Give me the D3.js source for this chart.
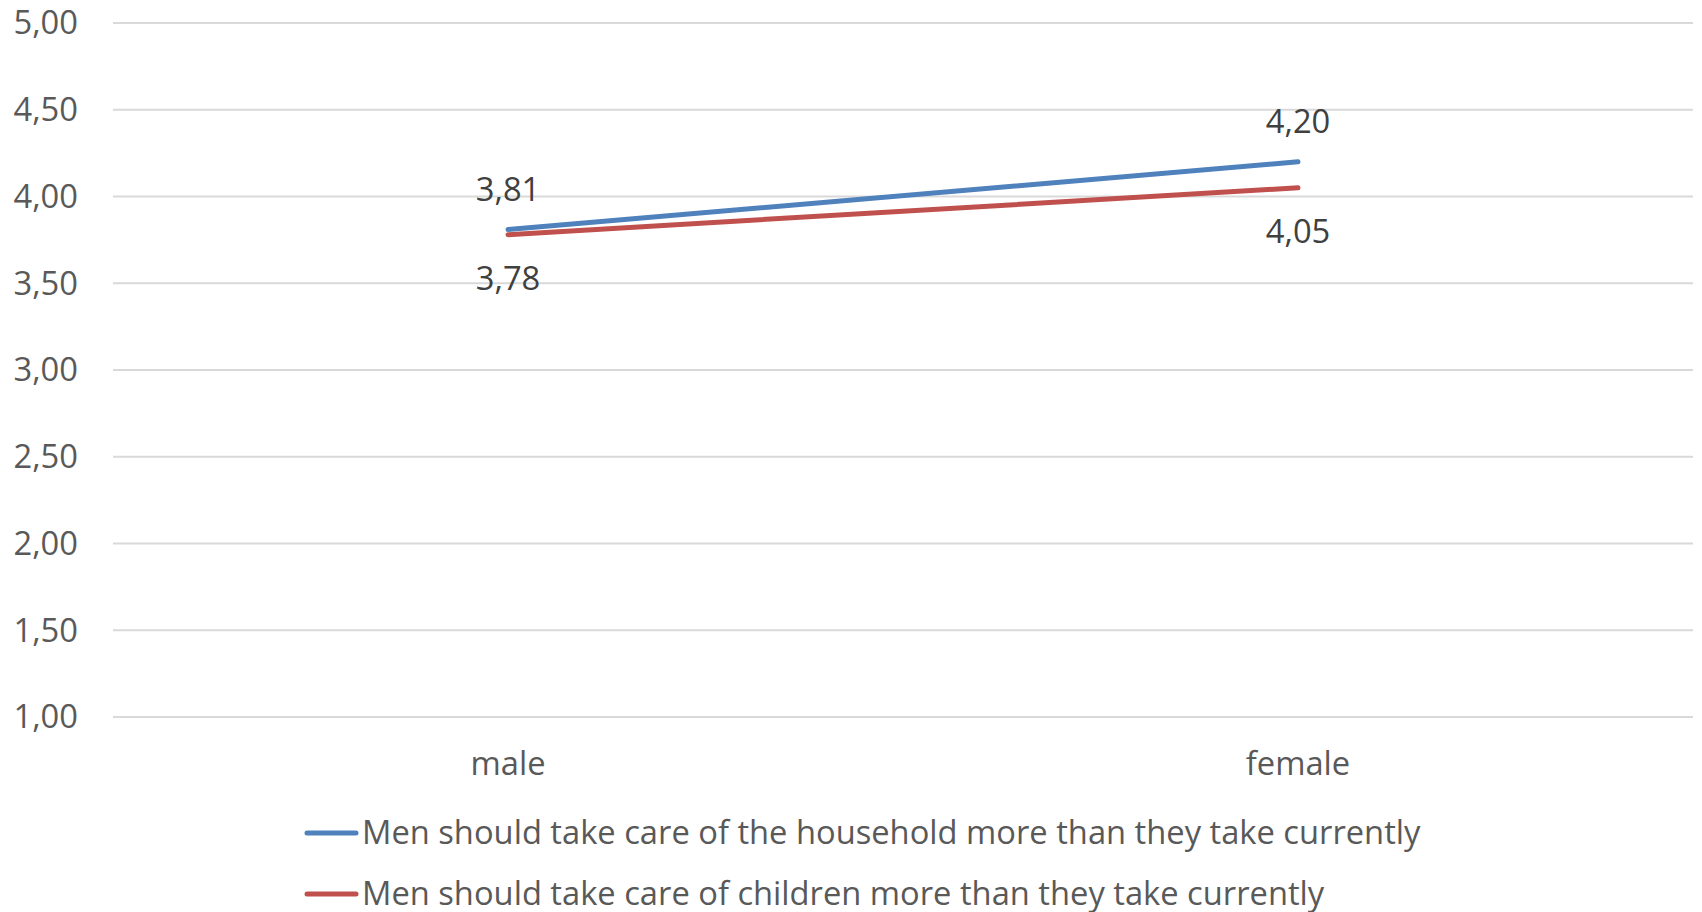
<!DOCTYPE html>
<html>
<head>
<meta charset="utf-8">
<script src="https://cdn.jsdelivr.net/npm/d3@7"></script>
<style>
  body { margin: 0; background: #fff; }
  text { font-family: "Open Sans", sans-serif; }
</style>
</head>
<body>
<div class="chart"></div>
<script>
var categories = ["male", "female"];
var seriesNames = [
    "Men should take care of the household more than they take currently",
    "Men should take care of children more than they take currently"
];
var household = [3.81, 4.20];
var children = [3.78, 4.05];
var yTicks = [1, 1.5, 2, 2.5, 3, 3.5, 4, 4.5, 5];
var colors = ["#4F81BD", "#C0504D"];

var width = 1702, height = 912;
var plotLeft = 113, plotRight = 1693, plotTop = 23, plotBottom = 717;
var fontSize = "32.7px";

var svg = d3.select(".chart").append("svg").attr("width", width).attr("height", height);

var x = d3.scaleBand().domain(categories).range([plotLeft, plotRight]).padding(0);
var y = d3.scaleLinear().domain([1, 5]).range([plotBottom, plotTop]);

var fmt = function (d) { return d3.format(".2f")(d).replace(".", ","); };
var cx = function (c) { return x(c) + x.bandwidth() / 2; };

// gridlines
svg.append("g").selectAll("line").data(yTicks).enter().append("line")
    .attr("x1", plotLeft).attr("x2", plotRight)
    .attr("y1", function (d) { return y(d); }).attr("y2", function (d) { return y(d); })
    .attr("stroke", "#d9d9d9").attr("stroke-width", 1.8);

// y labels
svg.append("g").selectAll("text").data(yTicks).enter().append("text")
    .attr("x", 78).attr("y", function (d) { return y(d); })
    .attr("dy", "0.35em").attr("text-anchor", "end")
    .attr("font-size", fontSize).attr("fill", "#595959")
    .text(fmt);

// x labels
svg.append("g").selectAll("text").data(categories).enter().append("text")
    .attr("x", cx).attr("y", 764)
    .attr("dy", "0.35em").attr("text-anchor", "middle")
    .attr("font-size", fontSize).attr("fill", "#595959")
    .text(function (d) { return d; });

var line = d3.line()
    .x(function (d, i) { return cx(categories[i]); })
    .y(function (d) { return y(d); });

var series = [household, children];
series.forEach(function (s, k) {
    svg.append("path").datum(s).attr("d", line)
        .attr("fill", "none").attr("stroke", colors[k])
        .attr("stroke-width", 5).attr("stroke-linecap", "round");
});

// data labels: blue above, red below
var labelOffset = [-40, 44];
series.forEach(function (s, k) {
    svg.append("g").selectAll("text").data(s).enter().append("text")
        .attr("x", function (d, i) { return cx(categories[i]); })
        .attr("y", function (d) { return y(d) + labelOffset[k]; })
        .attr("dy", "0.35em").attr("text-anchor", "middle")
        .attr("font-size", fontSize).attr("fill", "#404040")
        .text(fmt);
});

// legend
var legendY = [833, 894];
seriesNames.forEach(function (name, k) {
    svg.append("line").attr("x1", 307).attr("x2", 356)
        .attr("y1", legendY[k]).attr("y2", legendY[k])
        .attr("stroke", colors[k]).attr("stroke-width", 5).attr("stroke-linecap", "round");
    svg.append("text").attr("x", 362).attr("y", legendY[k]).attr("dy", "0.35em")
        .attr("font-size", fontSize).attr("fill", "#595959").text(name);
});
</script>
</body>
</html>
